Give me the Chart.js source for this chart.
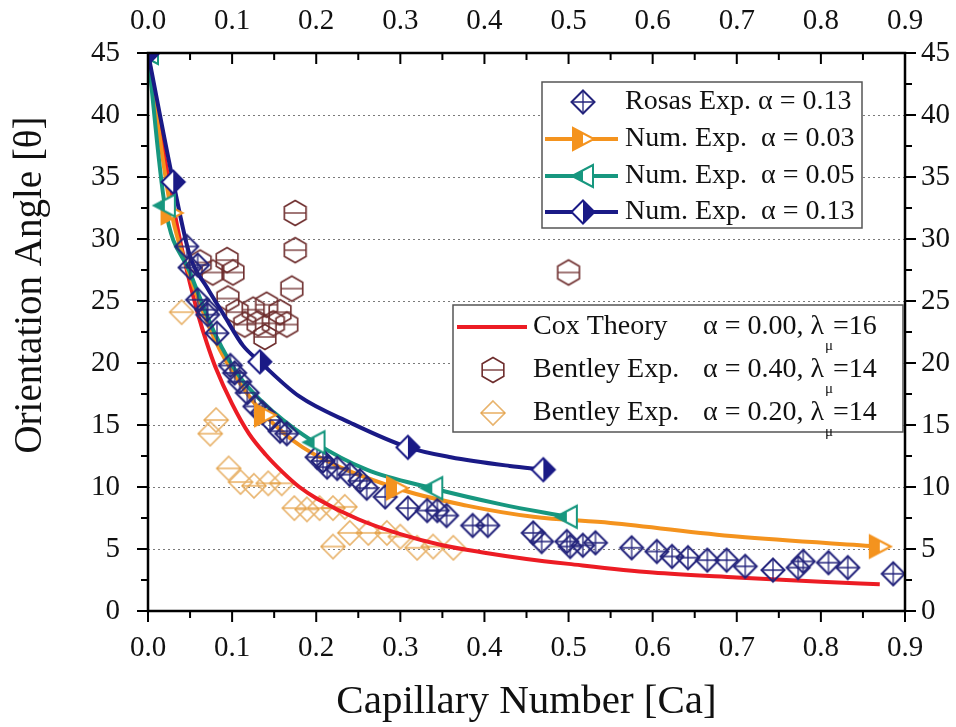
<!DOCTYPE html>
<html>
<head>
<meta charset="utf-8">
<script src="https://cdn.jsdelivr.net/npm/chart.js@4.4.0/dist/chart.umd.min.js"></script>
<style>
  html, body { margin: 0; padding: 0; background: #fff; }
</style>
</head>
<body>
<canvas id="grafica" width="956" height="727"></canvas>
<script>
// --- data (Ca, theta in degrees) ---
const rosasCa = [0.046, 0.050, 0.059, 0.059, 0.070, 0.071, 0.082, 0.098, 0.103, 0.109, 0.118, 0.127, 0.136, 0.145, 0.157, 0.165,
  0.201, 0.208, 0.213, 0.225, 0.240, 0.252, 0.260, 0.282, 0.309, 0.332, 0.344, 0.355, 0.386, 0.404, 0.458, 0.468, 0.498, 0.502,
  0.517, 0.532, 0.575, 0.605, 0.623, 0.642, 0.665, 0.688, 0.710, 0.743, 0.773, 0.779, 0.809, 0.832, 0.886];
const rosasTheta = [29.4, 27.7, 27.9, 25.1, 24.3, 23.9, 22.4, 19.8, 19.2, 18.5, 17.6, 16.5, 16.0, 15.4, 14.5, 14.3,
  12.4, 12.1, 11.6, 11.5, 11.0, 10.5, 9.9, 9.2, 8.3, 8.1, 8.1, 7.7, 6.9, 6.9, 6.3, 5.6, 5.6, 5.2,
  5.3, 5.5, 5.1, 4.8, 4.4, 4.3, 4.1, 4.1, 3.6, 3.3, 3.5, 4.0, 3.9, 3.5, 3.0];

const bentley40Ca = [0.062, 0.077, 0.094, 0.101, 0.095, 0.106, 0.115, 0.125, 0.131, 0.139, 0.141, 0.149, 0.157, 0.165, 0.171, 0.175, 0.175, 0.500];
const bentley40Theta = [28.1, 27.3, 28.3, 27.3, 25.2, 24.1, 23.1, 24.3, 23.2, 22.1, 24.7, 23.2, 24.1, 23.1, 26.0, 29.1, 32.1, 27.3];

const bentley20Ca = [0.040, 0.074, 0.081, 0.096, 0.110, 0.126, 0.143, 0.159, 0.174, 0.189, 0.204, 0.220, 0.234,
  0.220, 0.240, 0.262, 0.284, 0.300, 0.320, 0.339, 0.363];
const bentley20Theta = [24.1, 14.3, 15.4, 11.5, 10.4, 10.1, 10.3, 10.3, 8.3, 8.2, 8.3, 8.3, 8.4,
  5.2, 6.3, 6.3, 6.3, 6.0, 5.1, 5.2, 5.1];

const coxCa = [0, 0.01, 0.02, 0.03, 0.04, 0.05, 0.06, 0.07, 0.08, 0.10, 0.12, 0.14, 0.16, 0.18, 0.20, 0.25, 0.30, 0.35, 0.40, 0.45, 0.50, 0.60, 0.70, 0.80, 0.87];
const coxTheta = [45, 40.7, 36.5, 32.7, 29.3, 26.4, 23.8, 21.6, 19.7, 16.7, 14.3, 12.6, 11.2, 10.0, 9.1, 7.4, 6.2, 5.3, 4.7, 4.2, 3.8, 3.1, 2.7, 2.35, 2.15];

// numerical results: markers and the curve through them
const num03MarkCa = [0, 0.028, 0.139, 0.296, 0.870];
const num03MarkTheta = [45, 32.1, 15.8, 9.9, 5.2];
const num03LineCa = [0, 0.028, 0.05, 0.08, 0.11, 0.139, 0.184, 0.296, 0.379, 0.458, 0.55, 0.70, 0.870];
const num03LineTheta = [45, 32.1, 27.0, 21.8, 18.3, 15.8, 13.2, 9.9, 8.5, 7.6, 7.1, 6.0, 5.2];

const num05MarkCa = [0, 0.020, 0.198, 0.338, 0.498];
const num05MarkTheta = [45, 32.7, 13.6, 9.9, 7.6];
const num05LineCa = [0, 0.020, 0.05, 0.08, 0.11, 0.15, 0.198, 0.26, 0.338, 0.42, 0.498];
const num05LineTheta = [45, 32.7, 27.3, 22.3, 18.8, 16.0, 13.6, 11.4, 9.9, 8.6, 7.6];

const num13MarkCa = [0, 0.030, 0.133, 0.309, 0.470];
const num13MarkTheta = [45, 34.6, 20.1, 13.2, 11.4];
const num13LineCa = [0, 0.030, 0.05, 0.07, 0.09, 0.113, 0.133, 0.18, 0.24, 0.309, 0.36, 0.43, 0.470];
const num13LineTheta = [45, 34.6, 28.6, 26.1, 23.9, 21.4, 20.1, 17.3, 15.2, 13.2, 12.4, 11.7, 11.4];

const caTicks = [0, 0.1, 0.2, 0.3, 0.4, 0.5, 0.6, 0.7, 0.8, 0.9];
const thetaTicks = [0, 5, 10, 15, 20, 25, 30, 35, 40, 45];

// --- colours ---
const NAVY = "#24247c";
const NAVY2 = "#1a1a86";
const ORANGE = "#f4931e";
const TEAL = "#17977f";
const RED = "#ec1c24";
const MAROON = "#6e2d2d";
const TAN = "#e8b36c";
const SERIF = "'Liberation Serif', 'DejaVu Serif', serif";

const pts = (xs, ys) => xs.map((x, i) => ({ x: x, y: ys[i] }));

// --- marker images ---
function marker(size, draw) {
  const c = document.createElement("canvas");
  c.width = size; c.height = size;
  const g = c.getContext("2d");
  g.translate(size / 2, size / 2);
  draw(g);
  return c;
}
function diamondPath(g, r) {
  g.beginPath();
  g.moveTo(0, -r); g.lineTo(r, 0); g.lineTo(0, r); g.lineTo(-r, 0); g.closePath();
}
const mkRosas = marker(28, g => {
  diamondPath(g, 11.5);
  g.strokeStyle = NAVY; g.lineWidth = 2; g.stroke();
  g.beginPath(); g.moveTo(0, -11.5); g.lineTo(0, 11.5); g.moveTo(-11.5, 0); g.lineTo(11.5, 0);
  g.lineWidth = 1.3; g.stroke();
});
const mkHex = marker(30, g => {
  g.beginPath();
  for (let k = 0; k < 6; k++) {
    const a = (-90 + k * 60) * Math.PI / 180;
    const px = 12.5 * Math.cos(a), py = 12.5 * Math.sin(a);
    k ? g.lineTo(px, py) : g.moveTo(px, py);
  }
  g.closePath();
  g.strokeStyle = MAROON; g.lineWidth = 1.6; g.stroke();
  g.beginPath(); g.moveTo(-10.8, 0); g.lineTo(10.8, 0); g.lineWidth = 1.3; g.stroke();
});
const mkTan = marker(30, g => {
  diamondPath(g, 12);
  g.strokeStyle = TAN; g.lineWidth = 1.6; g.stroke();
  g.beginPath(); g.moveTo(-12, 0); g.lineTo(12, 0);
  g.strokeStyle = "#e39a3a"; g.lineWidth = 1.2; g.stroke();
});
const mkHalfDiamond = marker(28, g => {
  diamondPath(g, 11.5);
  g.fillStyle = "#fff"; g.fill();
  g.save(); g.clip(); g.fillStyle = NAVY2; g.fillRect(0, -13, 13, 26); g.restore();
  diamondPath(g, 11.5);
  g.strokeStyle = NAVY2; g.lineWidth = 2; g.stroke();
});
const mkOrangeTri = marker(28, g => {
  const path = () => { g.beginPath(); g.moveTo(-10, -11); g.lineTo(11, 0); g.lineTo(-10, 11); g.closePath(); };
  path(); g.fillStyle = "#fff"; g.fill();
  g.save(); g.clip(); g.fillStyle = ORANGE; g.fillRect(-12, -13, 12, 26); g.restore();
  path(); g.strokeStyle = ORANGE; g.lineWidth = 2; g.stroke();
});
const mkTealTri = marker(28, g => {
  const path = () => { g.beginPath(); g.moveTo(10, -11); g.lineTo(-11, 0); g.lineTo(10, 11); g.closePath(); };
  path(); g.fillStyle = "#fff"; g.fill();
  g.save(); g.clip(); g.fillStyle = TEAL; g.fillRect(-12, -13, 12, 26); g.restore();
  path(); g.strokeStyle = TEAL; g.lineWidth = 2; g.stroke();
});

// --- grid, frame, ticks, titles, legends ---
const decor = {
  id: "decor",
  beforeDatasetsDraw(chart) {
    const { ctx, chartArea: a, scales } = chart;
    ctx.save();
    ctx.strokeStyle = "#7a7a7a";
    ctx.lineWidth = 1.2;
    ctx.setLineDash([2, 3]);
    thetaTicks.forEach(v => {
      if (v === 0 || v === 45) return;
      const y = Math.round(scales.y.getPixelForValue(v)) + 0.5;
      ctx.beginPath(); ctx.moveTo(a.left, y); ctx.lineTo(a.right, y); ctx.stroke();
    });
    ctx.restore();
  },
  afterDatasetsDraw(chart) {
    const { ctx, chartArea: a, scales } = chart;
    ctx.save();
    // frame
    ctx.strokeStyle = "#000";
    ctx.lineWidth = 2.5;
    ctx.strokeRect(a.left, a.top, a.right - a.left, a.bottom - a.top);
    // ticks
    ctx.lineWidth = 2;
    ctx.beginPath();
    for (let i = 0; i <= 18; i++) {
      const x = scales.x.getPixelForValue(i * 0.05);
      const len = i % 2 === 0 ? 11 : 7;
      ctx.moveTo(x, a.bottom); ctx.lineTo(x, a.bottom + len);
      ctx.moveTo(x, a.top); ctx.lineTo(x, a.top + len);
    }
    for (let i = 0; i <= 18; i++) {
      const y = scales.y.getPixelForValue(i * 2.5);
      const len = i % 2 === 0 ? 11 : 7;
      ctx.moveTo(a.left, y); ctx.lineTo(a.left - len, y);
      ctx.moveTo(a.right, y); ctx.lineTo(a.right + len, y);
    }
    ctx.stroke();

    // axis titles
    ctx.fillStyle = "#111";
    ctx.textBaseline = "middle";
    ctx.textAlign = "center";
    ctx.font = "41px " + SERIF;
    ctx.fillText("Capillary Number [Ca]", (a.left + a.right) / 2, 702);
    ctx.save();
    ctx.translate(31, 285);
    ctx.rotate(-Math.PI / 2);
    ctx.font = "39px " + SERIF;
    ctx.fillText("Orientation Angle [\u03b8]", 0, 0);
    ctx.restore();

    // legend 1
    ctx.textAlign = "left";
    ctx.fillStyle = "#fff";
    ctx.fillRect(542, 82, 320, 146);
    ctx.strokeStyle = "#555"; ctx.lineWidth = 1.5;
    ctx.strokeRect(542, 82, 320, 146);
    const rows1 = [
      { y: 102, img: mkRosas, line: null, text: "Rosas Exp. \u03b1 = 0.13" },
      { y: 139, img: mkOrangeTri, line: ORANGE, text: "Num. Exp.  \u03b1 = 0.03" },
      { y: 176, img: mkTealTri, line: TEAL, text: "Num. Exp.  \u03b1 = 0.05" },
      { y: 212, img: mkHalfDiamond, line: NAVY2, text: "Num. Exp.  \u03b1 = 0.13" }
    ];
    ctx.font = "28px " + SERIF;
    rows1.forEach(r => {
      if (r.line) {
        ctx.strokeStyle = r.line; ctx.lineWidth = 4;
        ctx.beginPath(); ctx.moveTo(545, r.y); ctx.lineTo(618, r.y); ctx.stroke();
      }
      ctx.drawImage(r.img, 583 - r.img.width / 2, r.y - r.img.height / 2);
      ctx.fillStyle = "#111";
      ctx.fillText(r.text, 625, r.y);
    });

    // legend 2
    ctx.fillStyle = "#fff";
    ctx.fillRect(453, 305, 450, 127);
    ctx.strokeStyle = "#555"; ctx.lineWidth = 1.5;
    ctx.strokeRect(453, 305, 450, 127);
    const rows2 = [
      { y: 327, img: null, name: "Cox Theory", a: "\u03b1 = 0.00, \u03bb", lam: "=16" },
      { y: 370, img: mkHex, name: "Bentley Exp.", a: "\u03b1 = 0.40, \u03bb", lam: "=14" },
      { y: 413, img: mkTan, name: "Bentley Exp.", a: "\u03b1 = 0.20, \u03bb", lam: "=14" }
    ];
    rows2.forEach(r => {
      if (r.img) {
        ctx.drawImage(r.img, 493 - r.img.width / 2, r.y - r.img.height / 2);
      } else {
        ctx.strokeStyle = RED; ctx.lineWidth = 4;
        ctx.beginPath(); ctx.moveTo(457, r.y); ctx.lineTo(527, r.y); ctx.stroke();
      }
      ctx.fillStyle = "#111";
      ctx.font = "28px " + SERIF;
      ctx.fillText(r.name, 533, r.y);
      ctx.fillText(r.a, 703, r.y);
      const w = ctx.measureText(r.a).width;
      ctx.font = "15px " + SERIF;
      ctx.fillText("\u03bc", 703 + w + 1, r.y + 19);
      ctx.font = "28px " + SERIF;
      ctx.fillText(r.lam, 703 + w + 9, r.y);
    });
    ctx.restore();
  }
};

const tickFont = { family: SERIF, size: 29 };
const fixed = v => Number(v).toFixed(1);

new Chart(document.getElementById("grafica"), {
  type: "scatter",
  data: {
    datasets: [
      { label: "Num 0.13 markers", data: pts(num13MarkCa, num13MarkTheta), pointStyle: mkHalfDiamond, order: 1 },
      { label: "Num 0.05 markers", data: pts(num05MarkCa, num05MarkTheta), pointStyle: mkTealTri, order: 2 },
      { label: "Num 0.03 markers", data: pts(num03MarkCa, num03MarkTheta), pointStyle: mkOrangeTri, order: 3 },
      { label: "Rosas Exp.", data: pts(rosasCa, rosasTheta), pointStyle: mkRosas, order: 4 },
      { label: "Num 0.13", data: pts(num13LineCa, num13LineTheta), showLine: true, borderColor: NAVY2, borderWidth: 4,
        pointRadius: 0, cubicInterpolationMode: "monotone", order: 5 },
      { label: "Num 0.05", data: pts(num05LineCa, num05LineTheta), showLine: true, borderColor: TEAL, borderWidth: 4,
        pointRadius: 0, cubicInterpolationMode: "monotone", order: 6 },
      { label: "Num 0.03", data: pts(num03LineCa, num03LineTheta), showLine: true, borderColor: ORANGE, borderWidth: 4,
        pointRadius: 0, cubicInterpolationMode: "monotone", order: 7 },
      { label: "Cox Theory", data: pts(coxCa, coxTheta), showLine: true, borderColor: RED, borderWidth: 4,
        pointRadius: 0, cubicInterpolationMode: "monotone", order: 8 },
      { label: "Bentley 0.20", data: pts(bentley20Ca, bentley20Theta), pointStyle: mkTan, order: 9 },
      { label: "Bentley 0.40", data: pts(bentley40Ca, bentley40Theta), pointStyle: mkHex, order: 10 }
    ]
  },
  options: {
    responsive: false,
    animation: false,
    events: [],
    devicePixelRatio: 1,
    layout: { padding: 0 },
    plugins: { legend: { display: false }, tooltip: { enabled: false } },
    scales: {
      x: {
        type: "linear", position: "bottom", min: 0, max: 0.9,
        afterBuildTicks: s => { s.ticks = caTicks.map(v => ({ value: v })); },
        afterFit: s => { s.height = 116; },
        grid: { display: false }, border: { display: false },
        ticks: { font: tickFont, color: "#111", padding: 12, callback: fixed, maxRotation: 0 }
      },
      x2: {
        type: "linear", position: "top", min: 0, max: 0.9,
        afterBuildTicks: s => { s.ticks = caTicks.map(v => ({ value: v })); },
        afterFit: s => { s.height = 53; },
        grid: { display: false }, border: { display: false },
        ticks: { font: tickFont, color: "#111", padding: 6, callback: fixed, maxRotation: 0 }
      },
      y: {
        type: "linear", position: "left", min: 0, max: 45,
        afterBuildTicks: s => { s.ticks = thetaTicks.map(v => ({ value: v })); },
        afterFit: s => { s.width = 148; },
        grid: { display: false }, border: { display: false },
        ticks: { font: tickFont, color: "#111", padding: 20 }
      },
      y2: {
        type: "linear", position: "right", min: 0, max: 45,
        afterBuildTicks: s => { s.ticks = thetaTicks.map(v => ({ value: v })); },
        afterFit: s => { s.width = 51; },
        grid: { display: false }, border: { display: false },
        ticks: { font: tickFont, color: "#111", padding: 8 }
      }
    }
  },
  plugins: [decor]
});
</script>
</body>
</html>
